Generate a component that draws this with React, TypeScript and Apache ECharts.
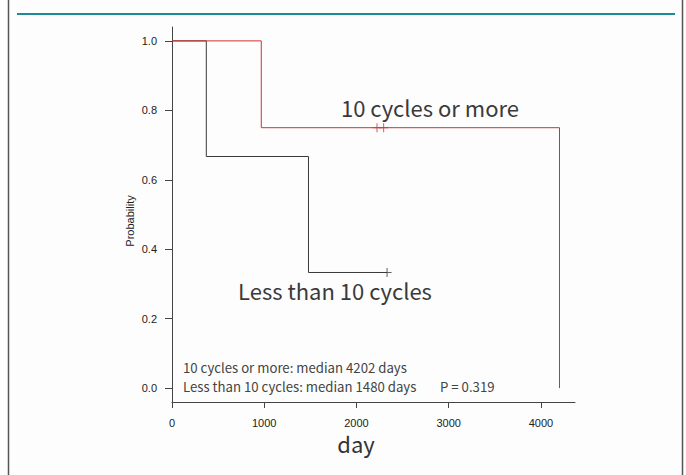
import React, { useEffect, useRef } from "react";
import * as echarts from "echarts";

// Kaplan–Meier step points [day, survival probability]
const moreTimes = [0, 968, 4202];
const moreSurv = [1.0, 0.75, 0.0];
const moreCensorTimes = [2223, 2295];
const moreCensorSurv = [0.75, 0.75];

const lessTimes = [0, 372, 1480, 2332];
const lessSurv = [1.0, 0.667, 0.333, 0.333];
const lessCensorTimes = [2332];
const lessCensorSurv = [0.333];

const xTicks = [0, 1000, 2000, 3000, 4000];
const yTicks = [0, 0.2, 0.4, 0.6, 0.8, 1.0];

const groupLabels = ["10 cycles or more", "Less than 10 cycles"];
const summaryLines = [
  "10 cycles or more: median 4202 days",
  "Less than 10 cycles: median 1480 days",
];
const pText = "P = 0.319";

const RED = "#d03030";
const BLACK = "#3a3a3a";
const AXIS = "#444444";
const JP = '"Noto Sans CJK JP", "Noto Sans", sans-serif';
const ARIAL = '"Liberation Sans", Arial, sans-serif';

const plus = "path://M4,0h1v9h-1z M0,4h9v1h-9z";

export default function App() {
  const ref = useRef<HTMLDivElement>(null);
  useEffect(() => {
    if (!ref.current) return;
    const chart = echarts.init(ref.current, null, { renderer: "svg" });
    const zip = (a: number[], b: number[]) => a.map((v, i) => [v, b[i]]);
    chart.setOption({
      animation: false,
      backgroundColor: "#fdfdfd",
      grid: { left: 172, top: 27, width: 403, height: 375, containLabel: false },
      xAxis: {
        type: "value",
        min: 0,
        max: 4370,
        splitLine: { show: false },
        axisLine: { show: true, onZero: false, lineStyle: { color: AXIS, width: 1 } },
        axisTick: { show: true, length: 6, customValues: xTicks, lineStyle: { color: AXIS } },
        axisLabel: {
          customValues: xTicks,
          margin: 15,
          color: "#222",
          fontSize: 11,
          lineHeight: 11,
          fontFamily: ARIAL,
          formatter: (v: number) => String(Math.round(v)),
        },
      },
      yAxis: {
        type: "value",
        min: -0.04,
        max: 1.04,
        splitLine: { show: false },
        axisLine: { show: true, onZero: false, lineStyle: { color: AXIS, width: 1 } },
        axisTick: { show: true, length: 7, customValues: yTicks, lineStyle: { color: AXIS } },
        axisLabel: {
          customValues: yTicks,
          margin: 15,
          color: "#222",
          fontSize: 11,
          fontFamily: ARIAL,
          formatter: (v: number) => v.toFixed(1),
        },
      },
      series: [
        {
          type: "line",
          step: "end",
          data: zip(moreTimes, moreSurv),
          showSymbol: false,
          lineStyle: { color: RED, width: 1 },
          z: 3,
        },
        {
          type: "line",
          step: "end",
          data: zip(lessTimes, lessSurv),
          showSymbol: false,
          lineStyle: { color: BLACK, width: 1 },
          z: 2,
        },
        {
          type: "scatter",
          data: zip(moreCensorTimes, moreCensorSurv),
          symbol: plus,
          symbolSize: 9,
          itemStyle: { color: RED },
          z: 4,
        },
        {
          type: "scatter",
          data: zip(lessCensorTimes, lessCensorSurv),
          symbol: plus,
          symbolSize: 9,
          itemStyle: { color: BLACK },
          z: 4,
        },
      ],
      graphic: [
        { type: "line", shape: { x1: 8.5, y1: 0, x2: 8.5, y2: 475 }, style: { stroke: "#555", lineWidth: 1.5 } },
        { type: "line", shape: { x1: 682.5, y1: 0, x2: 682.5, y2: 475 }, style: { stroke: "#555", lineWidth: 1.5 } },
        { type: "line", shape: { x1: 17, y1: 14, x2: 675, y2: 14 }, style: { stroke: "#1a8c98", lineWidth: 2 } },
        {
          type: "text",
          x: 430,
          y: 107,
          style: { text: groupLabels[0], font: `22px ${JP}`, fill: "#3a3a3a", textAlign: "center", textVerticalAlign: "middle" },
        },
        {
          type: "text",
          x: 335,
          y: 290,
          style: { text: groupLabels[1], font: `22px ${JP}`, fill: "#3a3a3a", textAlign: "center", textVerticalAlign: "middle" },
        },
        {
          type: "text",
          x: 183,
          y: 367,
          style: { text: summaryLines[0], font: `13.2px ${JP}`, lineHeight: 15, fill: "#444", textAlign: "left", textVerticalAlign: "middle" },
        },
        {
          type: "text",
          x: 183,
          y: 386.5,
          style: { text: summaryLines[1], font: `13.2px ${JP}`, lineHeight: 15, fill: "#444", textAlign: "left", textVerticalAlign: "middle" },
        },
        {
          type: "text",
          x: 440,
          y: 386.5,
          style: { text: pText, font: `13.2px ${JP}`, lineHeight: 15, fill: "#444", textAlign: "left", textVerticalAlign: "middle" },
        },
        {
          type: "text",
          x: 356,
          y: 443,
          style: { text: "day", font: `22px ${JP}`, lineHeight: 19, fill: "#333", textAlign: "center", textVerticalAlign: "middle" },
        },
        {
          type: "text",
          x: 130,
          y: 221,
          rotation: Math.PI / 2,
          style: { text: "Probability", font: `11px ${ARIAL}`, fill: "#222", textAlign: "center", textVerticalAlign: "middle" },
        },
      ],
    });
    return () => chart.dispose();
  }, []);
  return (
    <div
      ref={ref}
      style={{ position: "fixed", left: 0, top: 0, width: 686, height: 475 }}
    />
  );
}
